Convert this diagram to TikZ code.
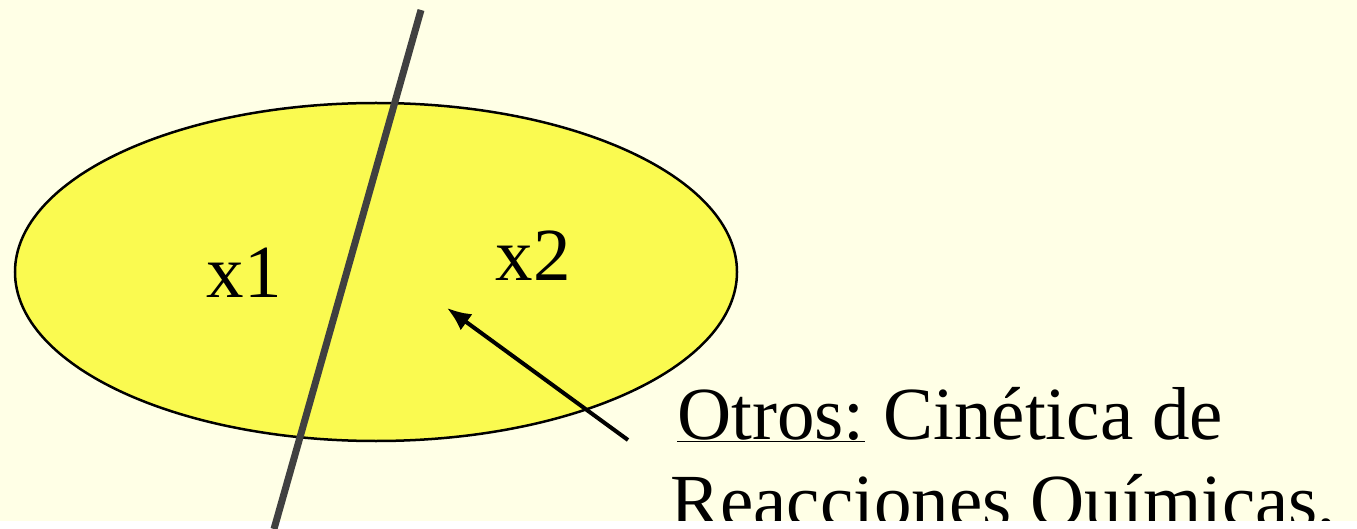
\documentclass[tikz,border=0pt]{standalone}
\usepackage{fontspec}
\setmainfont{Liberation Serif}
\usetikzlibrary{arrows.meta,positioning,shapes.geometric}
\definecolor{paper}{HTML}{FFFFE6}
\definecolor{blob}{HTML}{FAFA50}
\definecolor{cutline}{HTML}{404040}
\tikzset{
    region/.style={draw, ellipse, line width=2.5pt, fill=blob, inner sep=0pt},
    varlabel/.style={anchor=base, inner sep=0pt},
    note/.style={anchor=base west, inner sep=0pt},
    pointer/.style={-{Latex[length=24pt, width=20pt]}, line width=4pt},
}
\begin{document}
\begin{tikzpicture}[x=1pt, y=-1pt, font=\fontsize{75}{86}\selectfont]
    % background and frame
    \fill[paper] (0,0) rectangle (1357,521);
    \useasboundingbox (0,0) rectangle (1357,529);

    % yellow region
    \node[region, minimum width=722pt, minimum height=338pt] (reg) at (376,272) {};

    % variables
    \node[varlabel] (xa) at (244,298) {x1};
    \node[varlabel] (xb) at (533,280) {x2};

    % note
    \node[note] (otros) at (677,439) {\underline{Otros:} Cinética de};
    \node[note] (reac) at (670,526) {Reacciones Químicas,};
    \fill[white] (0,521) rectangle (1357,529);

    % dividing line
    \coordinate (cuttop) at (421,10);
    \coordinate (cutbot) at (274,529);
    \draw[cutline, line width=7pt] (cuttop) -- (cutbot);

    % arrow
    \coordinate (tail) at (628,440);
    \coordinate (aim) at (447,308);
    \draw[pointer] (tail) -- (aim);
\end{tikzpicture}
\end{document}
